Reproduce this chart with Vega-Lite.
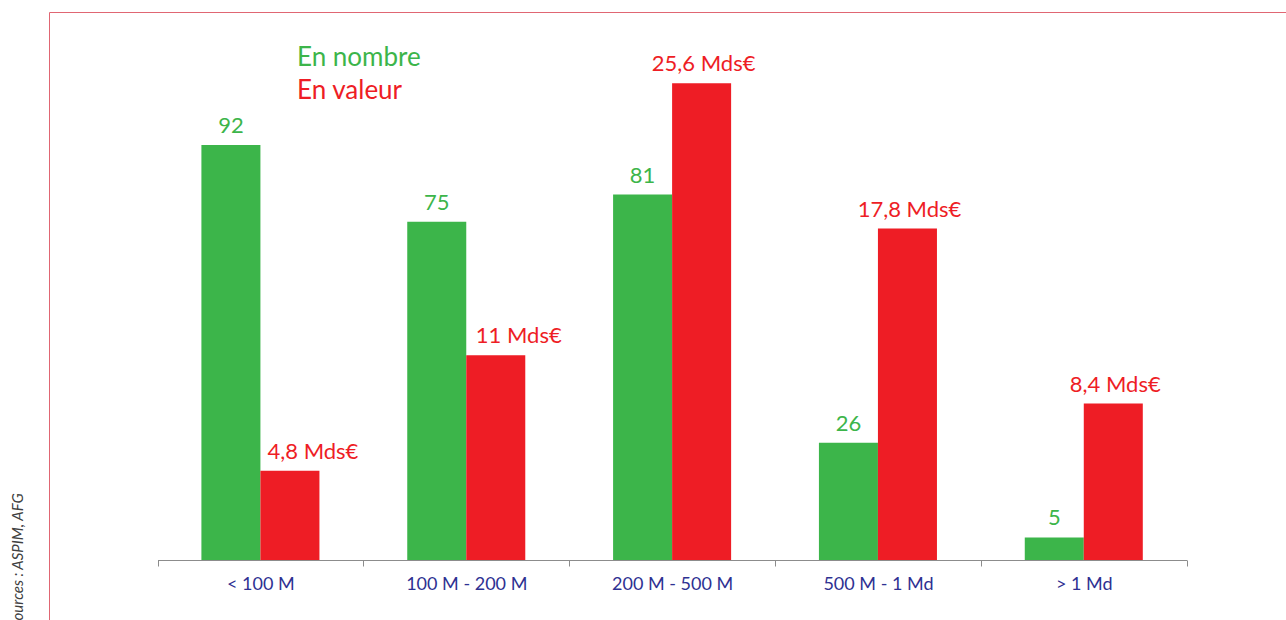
{
  "$schema": "https://vega.github.io/schema/vega-lite/v6.json",
  "autosize": "none",
  "padding": {"left": 49, "top": 12, "right": 0, "bottom": 0},
  "width": 1237,
  "height": 608,
  "background": "#ffffff",
  "config": {
    "view": {"stroke": "#E06673", "strokeWidth": 1},
    "font": "Lato"
  },
  "title": {
    "text": "Sources : ASPIM, AFG",
    "orient": "left",
    "anchor": "start",
    "fontStyle": "italic",
    "fontWeight": "normal",
    "fontSize": 15,
    "font": "Lato",
    "color": "#404040",
    "offset": 23,
    "dx": -8
  },
  "data": {
    "values": [
      {"cat": "< 100 M", "serie": "En nombre", "value": 92, "label": "92"},
      {"cat": "100 M - 200 M", "serie": "En nombre", "value": 75, "label": "75"},
      {"cat": "200 M - 500 M", "serie": "En nombre", "value": 81, "label": "81"},
      {"cat": "500 M - 1 Md", "serie": "En nombre", "value": 26, "label": "26"},
      {"cat": "> 1 Md", "serie": "En nombre", "value": 5, "label": "5"},
      {"cat": "< 100 M", "serie": "En valeur", "value": 4.8, "label": "4,8 Mds€"},
      {"cat": "100 M - 200 M", "serie": "En valeur", "value": 11, "label": "11 Mds€"},
      {"cat": "200 M - 500 M", "serie": "En valeur", "value": 25.6, "label": "25,6 Mds€"},
      {"cat": "500 M - 1 Md", "serie": "En valeur", "value": 17.8, "label": "17,8 Mds€"},
      {"cat": "> 1 Md", "serie": "En valeur", "value": 8.4, "label": "8,4 Mds€"}
    ]
  },
  "encoding": {
    "x": {
      "field": "cat",
      "type": "nominal",
      "sort": ["< 100 M", "100 M - 200 M", "200 M - 500 M", "500 M - 1 Md", "> 1 Md"],
      "scale": {"range": [108.5, 1137.7], "paddingInner": 0, "paddingOuter": 0},
      "axis": {
        "orient": "bottom",
        "offset": -60,
        "title": null,
        "labelAngle": 0,
        "labelFont": "Lato",
        "labelFontSize": 18,
        "labelColor": "#2E3192",
        "labelPadding": 9,
        "domainColor": "#8C8C8C",
        "tickColor": "#8C8C8C",
        "tickSize": 6,
        "tickBand": "extent",
        "grid": false
      }
    },
    "xOffset": {
      "field": "serie",
      "type": "nominal",
      "scale": {"domain": ["En nombre", "En valeur"], "paddingInner": 0, "paddingOuter": 0.744}
    }
  },
  "layer": [
    {
      "transform": [{"filter": "datum.serie === 'En nombre'"}],
      "encoding": {
        "y": {"field": "value", "type": "quantitative", "scale": {"domain": [-13.3, 121.48], "zero": false, "nice": false}, "axis": null}
      },
      "layer": [
        {
          "mark": {"type": "bar"},
          "encoding": {
            "y2": {"datum": 0},
            "color": {
              "field": "serie",
              "type": "nominal",
              "scale": {"domain": ["En nombre", "En valeur"], "range": ["#3CB54A", "#EE1D25"]},
              "legend": {
                "title": null,
                "orient": "none",
                "legendX": 222,
                "legendY": 33,
                "symbolSize": 0,
                "symbolOpacity": 0,
                "symbolStrokeWidth": 0,
                "labelOffset": 0,
                "labelFont": "Lato",
                "labelFontSize": 26,
                "rowPadding": 7,
                "encode": {
                  "labels": {
                    "update": {
                      "fill": {"signal": "datum.value === 'En nombre' ? '#3CB54A' : '#EE1D25'"}
                    }
                  }
                }
              }
            }
          }
        },
        {
          "mark": {"type": "text", "baseline": "alphabetic", "dy": -12, "fontSize": 22, "font": "Lato", "color": "#3CB54A"},
          "encoding": {"text": {"field": "label"}}
        }
      ]
    },
    {
      "transform": [{"filter": "datum.serie === 'En valeur'"}],
      "encoding": {
        "y": {"field": "value", "type": "quantitative", "scale": {"domain": [-3.222, 29.43], "zero": false, "nice": false}, "axis": null}
      },
      "layer": [
        {
          "mark": {"type": "bar"},
          "encoding": {
            "y2": {"datum": 0},
            "color": {"field": "serie", "type": "nominal"}
          }
        },
        {
          "transform": [{"filter": "datum.cat !== '< 100 M' && datum.cat !== '100 M - 200 M'"}],
          "mark": {"type": "text", "baseline": "alphabetic", "dy": -12, "dx": 2, "fontSize": 22, "font": "Lato", "color": "#EE1D25"},
          "encoding": {"text": {"field": "label"}}
        },
        {
          "transform": [{"filter": "datum.cat === '< 100 M' || datum.cat === '100 M - 200 M'"}],
          "mark": {"type": "text", "baseline": "alphabetic", "dy": -12, "dx": 23, "fontSize": 22, "font": "Lato", "color": "#EE1D25"},
          "encoding": {"text": {"field": "label"}}
        }
      ]
    }
  ],
  "resolve": {"scale": {"y": "independent"}}
}
